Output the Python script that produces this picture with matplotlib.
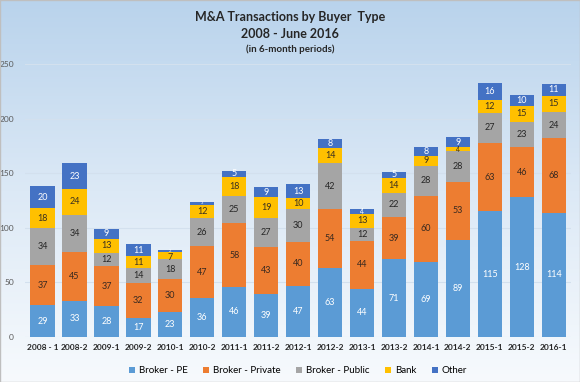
import numpy as np
import matplotlib.pyplot as plt
from matplotlib.colors import LinearSegmentedColormap

periods = ["2008 - 1", "2008-2", "2009-1", "2009-2", "2010-1", "2010-2", "2011-1", "2011-2",
           "2012-1", "2012-2", "2013-1", "2013-2", "2014-1", "2014-2", "2015-1", "2015-2", "2016-1"]
broker_pe = [29, 33, 28, 17, 23, 36, 46, 39, 47, 63, 44, 71, 69, 89, 115, 128, 114]
broker_private = [37, 45, 37, 32, 30, 47, 58, 43, 40, 54, 44, 39, 60, 53, 63, 46, 68]
broker_public = [34, 34, 12, 14, 18, 26, 25, 27, 30, 42, 12, 22, 28, 28, 27, 23, 24]
bank = [18, 24, 13, 11, 7, 12, 18, 19, 10, 14, 13, 14, 9, 4, 12, 15, 15]
other = [20, 23, 9, 11, 2, 3, 5, 9, 13, 8, 4, 5, 8, 9, 16, 10, 11]

series = [("Broker - PE", broker_pe, "#5B9BD5", "white"),
          ("Broker - Private", broker_private, "#ED7D31", "#3a2a20"),
          ("Broker - Public", broker_public, "#A5A5A5", "#262626"),
          ("Bank", bank, "#FFC000", "#3a3020"),
          ("Other", other, "#4472C4", "white")]

plt.rcParams['font.family'] = ['Lato', 'DejaVu Sans']

fig = plt.figure(figsize=(5.8, 3.82), dpi=100)

# background gradient
bg = fig.add_axes([0, 0, 1, 1], zorder=-1)
cmap = LinearSegmentedColormap.from_list("bg", ["#F7FAFD", "#DCE9F6", "#B9D3EC"])
bg.imshow(np.linspace(0, 1, 256).reshape(-1, 1), aspect="auto", cmap=cmap, extent=[0, 1, 0, 1])
bg.set_xlim(0, 1)
bg.set_ylim(1, 0)
bg.axis("off")

ax = fig.add_axes([0.043, 0.118, 0.942, 0.714])
ax.patch.set_alpha(0)
x = np.arange(len(periods))
bottom = np.zeros(len(periods))
for k, (name, vals, col, tcol) in enumerate(series):
    vals = np.array(vals)
    above = np.array(series[k + 1][1]) if k + 1 < len(series) else np.full(len(vals), 99)
    ax.bar(x, vals, 0.76, bottom=bottom, color=col, label=name, zorder=3)
    for xi, b, v, a in zip(x, bottom, vals, above):
        if v >= 5:
            fs = 6.5
        elif v >= 4:
            fs = 5
        else:
            fs = 3
        yy = b + v / 2
        if a < 4 and v < 10:
            yy -= 1.8
        ax.text(xi, yy, str(v), ha="center", va="center", fontsize=fs, color=tcol, zorder=4)
    bottom += vals

ax.set_ylim(0, 250)
ax.set_xlim(-0.55, len(periods) - 0.45)
ax.set_yticks(range(0, 251, 50))
ax.yaxis.grid(True, color="#D3E0EE", linewidth=0.8, zorder=0)
ax.set_xticks(x)
ax.set_xticklabels(periods, fontsize=6, fontweight="bold", color="#262626")
ax.tick_params(axis="y", labelsize=6, colors="#595959", length=0, pad=8)
ax.tick_params(axis="x", length=0, pad=5)
for s in ax.spines.values():
    s.set_visible(False)

fig.text(0.5, 0.955, "M&A Transactions by Buyer  Type", ha="center", va="center",
         fontsize=9, fontweight="bold", color="#262626")
fig.text(0.5, 0.912, "2008 - June 2016", ha="center", va="center",
         fontsize=9, fontweight="bold", color="#262626")
fig.text(0.5, 0.872, "(in 6-month periods)", ha="center", va="center",
         fontsize=7, fontweight="bold", color="#262626")

ax.legend(loc="upper center", bbox_to_anchor=(0.5, -0.075), ncol=5, frameon=False,
          fontsize=7, handlelength=0.6, handleheight=0.6, columnspacing=1.6, handletextpad=0.4)

fig.patches.append(plt.Rectangle((0, 0), 1, 1, transform=fig.transFigure, fill=False,
                                 edgecolor="#BFBFBF", linewidth=1))

plt.savefig("out.png", dpi=100)
